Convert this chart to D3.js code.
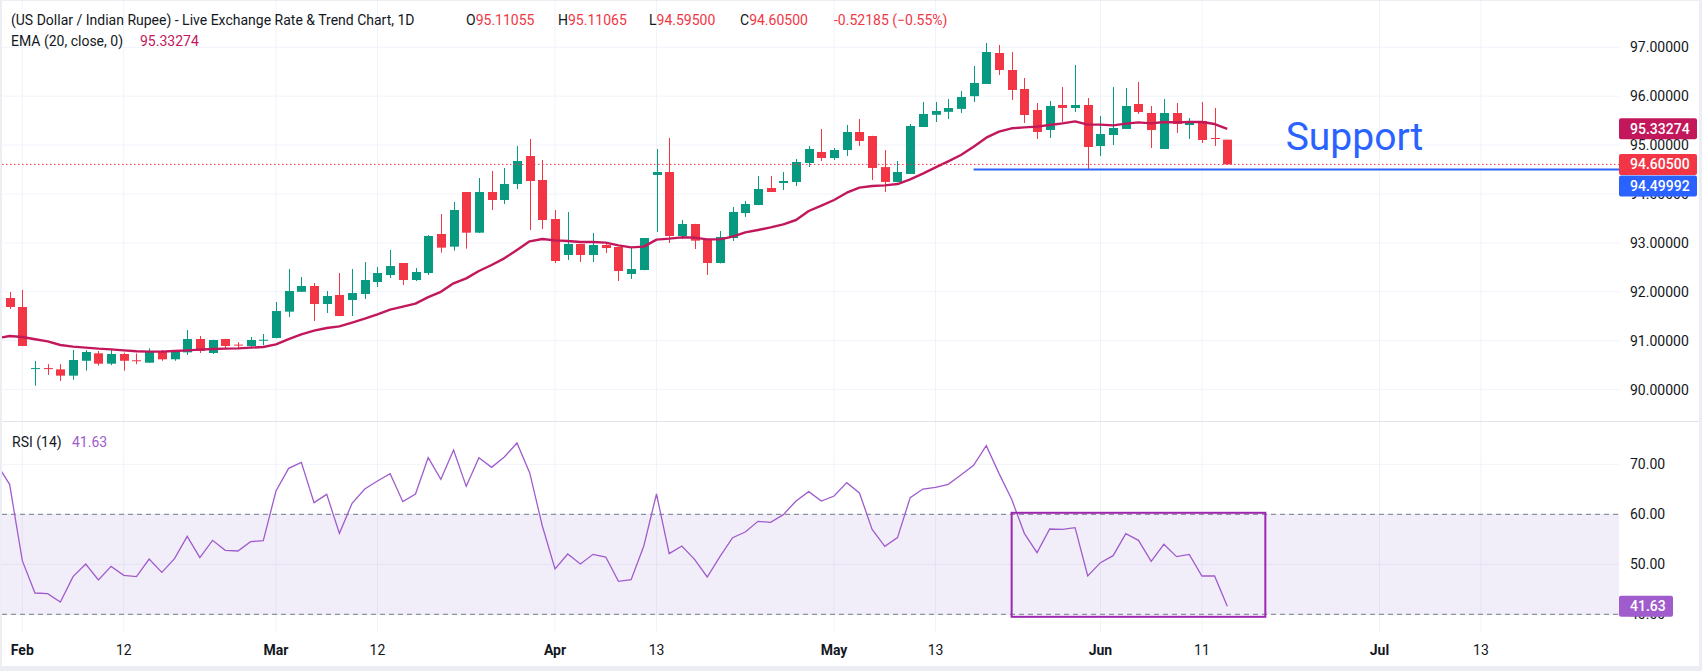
<!DOCTYPE html>
<html>
<head>
<meta charset="utf-8">
<script src="https://cdn.jsdelivr.net/npm/d3@7/dist/d3.min.js"></script>
<style>
  body { margin: 0; background: #fff; }
  svg { display: block; font-family: Roboto, "Noto Sans", sans-serif; }
</style>
</head>
<body>
<div id="chart"></div>
<script>
// daily candles, first bar is Thu 29 Jan 2026 (weekdays only)
const firstDay = "2026-01-29";
const lastDay = "2026-07-31";

const opens = [
  92.08, 91.873, 91.689, 90.43, 90.44, 90.414, 90.285, 90.59, 90.742, 90.53,
  90.728, 90.60, 90.55, 90.79, 90.62, 90.762, 91.035, 90.749, 91.035, 90.92,
  90.892, 91.01, 91.055, 91.594, 92.0, 92.119, 91.75, 91.935, 91.832, 91.955,
  92.2, 92.343, 92.589, 92.241, 92.384, 93.182, 92.923, 94.041, 93.209, 94.041,
  93.877, 94.205, 94.777, 94.286, 93.489, 92.753, 92.978, 92.753, 92.957, 92.916,
  92.364, 92.446, 94.389, 94.45, 93.141, 93.386, 93.06, 92.589, 93.10, 93.61,
  93.775, 94.123, 94.225, 94.245, 94.634, 94.859, 94.736, 94.9, 95.268, 95.186,
  94.55, 94.246, 94.41, 95.37, 95.62, 95.68, 95.74, 96.0, 96.25, 96.883,
  96.536, 96.147, 95.718, 95.309, 95.82, 95.759, 95.82, 94.98, 95.206, 95.33,
  95.841, 95.656, 94.92, 95.656, 95.41, 95.493, 95.145, 95.11055
];
const highs = [
  92.10, 91.996, 92.037, 90.585, 90.52, 90.52, 90.81, 90.81, 90.79, 90.824,
  90.756, 90.74, 90.844, 90.81, 90.78, 91.219, 91.096, 91.02, 91.04, 90.97,
  91.076, 91.137, 91.792, 92.466, 92.303, 92.18, 92.016, 92.384, 92.466, 92.609,
  92.507, 92.855, 92.59, 92.487, 93.16, 93.591, 93.836, 94.041, 94.327, 94.47,
  94.532, 94.98, 95.125, 94.695, 93.673, 93.632, 92.98, 93.203, 93.018, 92.92,
  92.895, 93.10, 94.92, 95.145, 93.468, 93.39, 93.06, 93.243, 93.734, 93.857,
  94.368, 94.368, 94.45, 94.716, 94.98, 95.329, 94.94, 95.411, 95.534, 95.19,
  94.90, 94.675, 95.432, 95.882, 95.882, 95.943, 96.106, 96.618, 97.088, 97.047,
  96.904, 96.372, 95.861, 95.902, 96.188, 96.638, 95.963, 95.595, 96.188, 96.168,
  96.29, 95.80, 95.943, 95.861, 95.554, 95.882, 95.759, 95.11065
];
const lows = [
  91.85, 91.648, 90.89, 90.08, 90.30, 90.176, 90.203, 90.387, 90.49, 90.50,
  90.387, 90.52, 90.55, 90.59, 90.59, 90.708, 90.749, 90.73, 90.844, 90.86,
  90.844, 90.91, 91.05, 91.485, 92.0, 91.403, 91.566, 91.50, 91.505, 91.853,
  92.098, 92.282, 92.139, 92.22, 92.343, 92.80, 92.841, 92.882, 93.2, 93.673,
  93.795, 94.10, 93.264, 93.284, 92.589, 92.65, 92.61, 92.61, 92.793, 92.22,
  92.262, 92.44, 93.223, 92.998, 93.08, 92.875, 92.344, 92.58, 93.039, 93.53,
  93.77, 94.04, 94.082, 94.164, 94.552, 94.675, 94.695, 94.777, 94.982, 94.287,
  94.041, 94.24, 94.41, 95.37, 95.472, 95.534, 95.656, 95.882, 96.25, 96.434,
  95.922, 95.452, 95.125, 95.145, 95.472, 95.677, 94.491, 94.777, 95.002, 95.33,
  95.636, 94.94, 94.92, 95.248, 95.125, 95.043, 94.98, 94.595
];
const closes = [
  91.86, 91.689, 90.892, 90.44, 90.43, 90.285, 90.605, 90.769, 90.53, 90.728,
  90.59, 90.594, 90.79, 90.619, 90.77, 91.035, 90.79, 91.015, 90.892, 90.91,
  91.015, 91.02, 91.607, 92.016, 92.119, 91.75, 91.914, 91.505, 91.975, 92.241,
  92.384, 92.527, 92.241, 92.405, 93.141, 92.903, 93.673, 93.209, 94.041, 93.877,
  94.205, 94.675, 94.266, 93.468, 92.63, 92.978, 92.753, 92.957, 92.895, 92.425,
  92.466, 93.10, 94.45, 93.141, 93.386, 93.046, 92.589, 93.121, 93.632, 93.795,
  94.102, 94.041, 94.266, 94.655, 94.92, 94.736, 94.90, 95.268, 95.084, 94.532,
  94.246, 94.45, 95.391, 95.636, 95.698, 95.759, 95.984, 96.27, 96.904, 96.536,
  96.127, 95.616, 95.268, 95.80, 95.759, 95.82, 94.961, 95.227, 95.35, 95.80,
  95.677, 95.309, 95.656, 95.432, 95.493, 95.104, 95.127, 94.605
];
const ema20 = [
  91.05, 91.096, 91.076, 91.03, 90.987, 90.912, 90.878, 90.858, 90.837, 90.823,
  90.803, 90.783, 90.776, 90.776, 90.79, 90.803, 90.817, 90.83, 90.837, 90.844,
  90.858, 90.871, 90.926, 91.03, 91.13, 91.205, 91.26, 91.294, 91.369, 91.45,
  91.539, 91.635, 91.696, 91.757, 91.89, 92.0, 92.173, 92.275, 92.425, 92.548,
  92.684, 92.855, 93.032, 93.08, 93.052, 93.039, 93.018, 93.018, 93.005, 92.95,
  92.909, 92.923, 93.066, 93.087, 93.114, 93.107, 93.073, 93.073, 93.128, 93.216,
  93.264, 93.318, 93.38, 93.468, 93.652, 93.761, 93.877, 94.027, 94.13, 94.164,
  94.177, 94.204, 94.30, 94.416, 94.545, 94.668, 94.797, 94.968, 95.152, 95.275,
  95.343, 95.363, 95.377, 95.411, 95.445, 95.486, 95.418, 95.418, 95.404, 95.438,
  95.465, 95.445, 95.472, 95.465, 95.472, 95.472, 95.431, 95.333
];
const rsi14 = [
  70.0, 65.99, 50.73, 44.26, 44.13, 42.46, 47.53, 50.06, 46.86, 49.59,
  47.79, 47.53, 51.06, 48.39, 51.13, 55.59, 51.33, 54.79, 52.79, 52.66,
  54.53, 54.73, 64.66, 69.19, 70.39, 62.33, 63.99, 56.19, 62.19, 65.06,
  66.66, 68.13, 62.53, 64.06, 71.33, 66.99, 72.86, 65.59, 71.33, 69.39,
  71.45, 74.26, 68.33, 57.66, 49.06, 52.06, 50.06, 51.99, 51.46, 46.59,
  46.93, 53.66, 64.06, 52.13, 53.66, 50.99, 47.46, 51.53, 55.33, 56.46,
  58.59, 58.39, 59.93, 62.66, 64.53, 62.66, 63.66, 66.33, 64.26, 56.99,
  53.59, 55.33, 63.33, 65.06, 65.39, 65.99, 67.86, 69.79, 73.73, 68.19,
  63.0, 56.19, 52.33, 57.06, 56.99, 57.33, 47.66, 50.33, 51.73, 56.13,
  54.79, 50.59, 53.99, 51.53, 51.99, 47.66, 47.66, 41.63
];

const timeTicks = [
  ["2026-02-02", "Feb", true], ["2026-02-12", "12", false],
  ["2026-03-02", "Mar", true], ["2026-03-12", "12", false],
  ["2026-04-01", "Apr", true], ["2026-04-13", "13", false],
  ["2026-05-01", "May", true], ["2026-05-13", "13", false],
  ["2026-06-01", "Jun", true], ["2026-06-11", "11", false],
  ["2026-07-01", "Jul", true], ["2026-07-13", "13", false]
];
const priceTicks = [90, 91, 92, 93, 94, 95, 96, 97];
const rsiTicks = [40, 50, 60, 70];
const rsiBand = [40, 60];
const supportLevel = 94.49992;
const supportFrom = "2026-05-18";
const supportLabelAt = ["2026-06-22", 94.9];
const boxFrom = "2026-05-21", boxTo = "2026-06-18";
const boxRange = [39.5, 60.3];
const emaLast = 95.33274;

const titleText = "(US Dollar / Indian Rupee) - Live Exchange Rate & Trend Chart, 1D";
const ohlcLegend = [["O", "95.11055"], ["H", "95.11065"], ["L", "94.59500"], ["C", "94.60500"]];
const changeText = "-0.52185 (\u22120.55%)";

const W = 1702, H = 671;
const plotLeft = 2, plotRight = 1619;
const priceTop = 0, priceBottom = 421;
const rsiTop = 422, rsiBottom = 631.7;
const UP = "#089981", DOWN = "#F23645", EMA_C = "#C2185B", RSI_C = "#a05ccc";
const TEXT = "#131722", GRID = "#f0f3fa";

const fmtKey = d3.timeFormat("%Y-%m-%d");
const parse = d3.timeParse("%Y-%m-%d");
const days = d3.timeDay.range(parse(firstDay), d3.timeDay.offset(parse(lastDay), 1))
  .filter(d => d.getDay() !== 0 && d.getDay() !== 6)
  .map(fmtKey);

const step = 12.684;
const x0 = 22.3 - 2 * step;
const x = d3.scalePoint().domain(days).range([x0, x0 + step * (days.length - 1)]);

const y = d3.scaleLinear().domain([89.358, 97.967]).range([priceBottom, priceTop]);
const yR = d3.scaleLinear().domain([36.52, 78.46]).range([rsiBottom, rsiTop]);

const candles = opens.map((o, i) => ({
  day: days[i], o: o, h: highs[i], l: lows[i], c: closes[i]
}));

const svg = d3.select("#chart").append("svg")
  .attr("width", W).attr("height", H);

// frame
svg.append("rect").attr("width", W).attr("height", H).attr("fill", "#eceef3");
svg.append("rect").attr("x", 2).attr("y", 1).attr("width", 1697).attr("height", 665).attr("fill", "#fff");

const defs = svg.append("defs");
defs.append("clipPath").attr("id", "clipPrice").append("rect")
  .attr("x", plotLeft).attr("y", priceTop).attr("width", plotRight - plotLeft).attr("height", priceBottom - priceTop);
defs.append("clipPath").attr("id", "clipRsi").append("rect")
  .attr("x", plotLeft).attr("y", rsiTop).attr("width", plotRight - plotLeft).attr("height", rsiBottom - rsiTop);

// grid
const grid = svg.append("g");
grid.selectAll(".vg").data(timeTicks).join("line")
  .attr("x1", d => x(d[0])).attr("x2", d => x(d[0]))
  .attr("y1", 1).attr("y2", rsiBottom)
  .attr("stroke", GRID).attr("stroke-width", 1);
grid.selectAll(".hg").data(priceTicks).join("line")
  .attr("x1", plotLeft).attr("x2", plotRight)
  .attr("y1", d => y(d)).attr("y2", d => y(d))
  .attr("stroke", GRID);
grid.selectAll(".rg").data(rsiTicks).join("line")
  .attr("x1", plotLeft).attr("x2", plotRight)
  .attr("y1", d => yR(d)).attr("y2", d => yR(d))
  .attr("stroke", GRID);

// pane separator
svg.append("line").attr("x1", 2).attr("x2", 1699).attr("y1", 421.5).attr("y2", 421.5)
  .attr("stroke", "#e0e3eb").attr("stroke-width", 1);

// price pane
const pricePane = svg.append("g").attr("clip-path", "url(#clipPrice)");

pricePane.selectAll(".wick").data(candles).join("line")
  .attr("x1", d => Math.round(x(d.day)) + 0.5).attr("x2", d => Math.round(x(d.day)) + 0.5)
  .attr("y1", d => y(d.h)).attr("y2", d => y(d.l))
  .attr("stroke", d => d.c >= d.o ? UP : DOWN).attr("stroke-width", 1);

pricePane.selectAll(".body").data(candles).join("rect")
  .attr("x", d => Math.round(x(d.day)) - 4)
  .attr("width", 9)
  .attr("y", d => y(Math.max(d.o, d.c)))
  .attr("height", d => Math.max(1, Math.abs(y(d.o) - y(d.c))))
  .attr("fill", d => d.c >= d.o ? UP : DOWN);

pricePane.append("path")
  .datum(ema20)
  .attr("fill", "none").attr("stroke", EMA_C).attr("stroke-width", 2.4)
  .attr("stroke-linejoin", "round")
  .attr("d", d3.line().x((d, i) => x(days[i])).y(d => y(d)));

const lastClose = closes[closes.length - 1];
pricePane.append("line")
  .attr("x1", plotLeft).attr("x2", plotRight)
  .attr("y1", y(lastClose)).attr("y2", y(lastClose))
  .attr("stroke", DOWN).attr("stroke-width", 1).attr("stroke-dasharray", "1.5,2.5");

pricePane.append("line")
  .attr("x1", x(supportFrom)).attr("x2", plotRight)
  .attr("y1", y(supportLevel)).attr("y2", y(supportLevel))
  .attr("stroke", "#2962FF").attr("stroke-width", 2);

pricePane.append("text")
  .attr("x", x(supportLabelAt[0]) - 5).attr("y", y(supportLabelAt[1]))
  .attr("font-size", 39).attr("fill", "#2962FF")
  .text("Support");

// rsi pane
const rsiPane = svg.append("g").attr("clip-path", "url(#clipRsi)");
rsiPane.append("rect")
  .attr("x", plotLeft).attr("width", plotRight - plotLeft)
  .attr("y", yR(rsiBand[1])).attr("height", yR(rsiBand[0]) - yR(rsiBand[1]))
  .attr("fill", "rgba(126,87,194,0.1)");
rsiPane.selectAll(".band").data(rsiBand).join("line")
  .attr("x1", plotLeft).attr("x2", plotRight)
  .attr("y1", d => yR(d)).attr("y2", d => yR(d))
  .attr("stroke", "#787B86").attr("stroke-dasharray", "5,4");
rsiPane.append("path")
  .datum(rsi14)
  .attr("fill", "none").attr("stroke", RSI_C).attr("stroke-width", 1.3)
  .attr("d", d3.line().x((d, i) => x(days[i])).y(d => yR(d)));
rsiPane.append("rect")
  .attr("x", x(boxFrom)).attr("width", x(boxTo) - x(boxFrom))
  .attr("y", yR(boxRange[1])).attr("height", yR(boxRange[0]) - yR(boxRange[1]))
  .attr("fill", "none").attr("stroke", "#9c27b0").attr("stroke-width", 2);

// legends
const leg = svg.append("g").attr("font-size", 14).attr("fill", TEXT);
leg.append("text").attr("x", 11).attr("y", 25).text(titleText);
const legX = [466, 558, 649, 740];
ohlcLegend.forEach((p, i) => {
  const t = leg.append("text").attr("x", legX[i]).attr("y", 25);
  t.append("tspan").text(p[0]);
  t.append("tspan").attr("fill", DOWN).text(p[1]);
});
leg.append("text").attr("x", 834).attr("y", 25).attr("fill", DOWN).text(changeText);

leg.append("text").attr("x", 11).attr("y", 46).text("EMA (20, close, 0)");
leg.append("text").attr("x", 140).attr("y", 46).attr("fill", EMA_C).text(d3.format(".5f")(emaLast));

leg.append("text").attr("x", 12).attr("y", 447).text("RSI (14)");
leg.append("text").attr("x", 72).attr("y", 447).attr("fill", RSI_C).text(d3.format(".2f")(rsi14[rsi14.length - 1]));

// axes
const axisG = svg.append("g").attr("font-size", 14).attr("fill", TEXT);
axisG.selectAll(".pl").data(priceTicks).join("text")
  .attr("x", 1630).attr("y", d => y(d)).attr("dy", "0.35em")
  .text(d => d3.format(".5f")(d));
axisG.selectAll(".rl").data(rsiTicks).join("text")
  .attr("x", 1630).attr("y", d => yR(d)).attr("dy", "0.35em")
  .text(d => d3.format(".2f")(d));
axisG.selectAll(".tl").data(timeTicks).join("text")
  .attr("x", d => x(d[0])).attr("y", 650).attr("dy", "0.35em")
  .attr("text-anchor", "middle")
  .attr("font-weight", d => d[2] ? 700 : 400)
  .text(d => d[1]);

// price scale labels
function tag(cy, color, w, txt) {
  const g = svg.append("g");
  g.append("rect").attr("x", 1619).attr("y", cy - 10.5).attr("width", w).attr("height", 21)
    .attr("rx", 2).attr("fill", color);
  g.append("text").attr("x", 1630).attr("y", cy).attr("dy", "0.35em")
    .attr("font-size", 14).attr("font-weight", 500).attr("fill", "#fff").text(txt);
}
tag(y(emaLast), EMA_C, 78, d3.format(".5f")(emaLast));
const redY = y(lastClose);
tag(redY, DOWN, 78, d3.format(".5f")(lastClose));
const blueY = Math.max(y(supportLevel), redY + 21.5);
tag(blueY, "#2962FF", 78, d3.format(".5f")(supportLevel));
const rsiLast = rsi14[rsi14.length - 1];
tag(yR(rsiLast), RSI_C, 54, d3.format(".2f")(rsiLast));
</script>
</body>
</html>
